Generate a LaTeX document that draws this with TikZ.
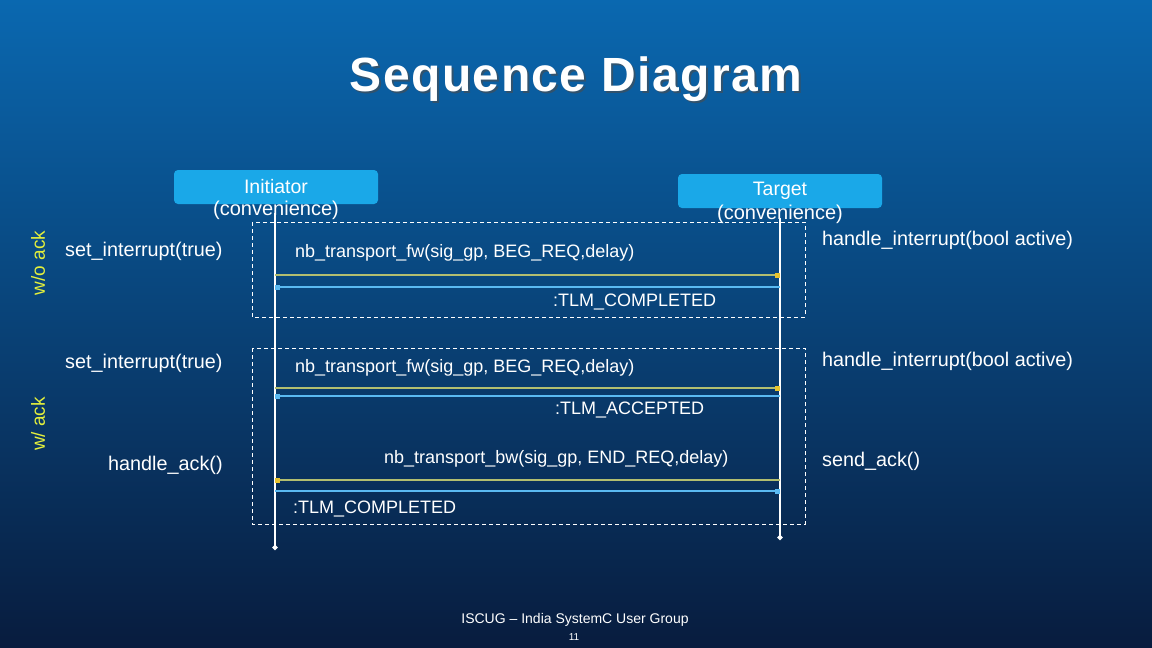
\documentclass[tikz,border=0pt]{standalone}
\usepackage{fontspec}
\setmainfont{Liberation Sans}
\newfontfamily\titlefont[LetterSpace=3]{Liberation Sans}
\usetikzlibrary{arrows.meta,positioning}
\definecolor{bgtop}{RGB}{10,104,176}
\definecolor{bgmid}{RGB}{4,98,168}
\definecolor{bgbot}{RGB}{8,28,62}
\definecolor{boxblue}{RGB}{26,168,232}
\definecolor{callline}{RGB}{178,190,112}
\definecolor{calltip}{RGB}{232,196,48}
\definecolor{retline}{RGB}{90,186,242}
\definecolor{sidelabel}{RGB}{228,240,60}
\tikzset{
  objbox/.style={fill=boxblue, rounded corners=4pt, minimum width=204pt, minimum height=34pt, text=white, font=\fontsize{19.5}{22}\selectfont, inner sep=0pt},
  objsub/.style={text=white, font=\fontsize{20}{22}\selectfont, inner sep=0pt},
  lifeline/.style={white, line width=1.3pt, -{Circle[length=5pt]}},
  fragment/.style={draw=white, dash pattern=on 4pt off 3pt, line width=0.8pt},
  method/.style={text=white, font=\fontsize{19.8}{22}\selectfont, anchor=west, inner sep=0pt},
  msglabel/.style={text=white, font=\fontsize{18}{21}\selectfont, anchor=west, inner sep=0pt},
  sidetag/.style={text=sidelabel, font=\fontsize{19}{22}\selectfont, rotate=90, inner sep=0pt},
  callmsg/.style={callline, line width=2pt, -{Square[length=5pt,width=5pt,color=calltip]}},
  retmsg/.style={retline, line width=2pt, -{Square[length=5pt,width=5pt,color=retline]}}
}
\begin{document}
\begin{tikzpicture}[x=1pt,y=-1pt]
  \shade[top color=bgtop, middle color=bgmid, bottom color=bgbot] (0,0) rectangle (1152,648);
  \useasboundingbox (0,0) rectangle (1152,648);
  \node[text=black!70, opacity=0.6, font=\fontsize{48}{50}\titlefont\bfseries] at (578,81) {Sequence Diagram};
  \node[text=white, font=\fontsize{48}{50}\titlefont\bfseries] (title) at (576,79) {Sequence Diagram};
  \node[objbox] (init) at (276,187) {Initiator};
  \node[objsub] (initsub) at (276,210) {(convenience)};
  \node[objbox] (targ) at (780,191) {Target};
  \node[objsub] (targsub) at (780,214) {(convenience)};
  \draw[fragment] (252,222) rectangle (805,317);
  \draw[fragment] (252,348) rectangle (805,524);
  \coordinate (ibot) at (275,550);
  \coordinate (tbot) at (780,540);
  \draw[lifeline] (initsub.center) ++(-1,3) -- (ibot);
  \draw[lifeline] (targsub.center) ++(0,4) -- (tbot);
  \node[sidetag] (noack) at (38,263) {w/o ack};
  \node[sidetag] (withack) at (38,424) {w/ ack};
  \node[method] (seti1) at (65,251) {set\_interrupt(true)};
  \node[method] (hint1) at (822,240) {handle\_interrupt(bool active)};
  \node[msglabel] (fw1) at (295,253) {nb\_transport\_fw(sig\_gp, BEG\_REQ,delay)};
  \coordinate (i1) at (275,275);
  \coordinate (t1) at (780,275);
  \coordinate (i2) at (275,287);
  \coordinate (t2) at (780,287);
  \draw[callmsg] (i1) -- (t1);
  \draw[retmsg] (t2) -- (i2);
  \node[msglabel] (ret1) at (553,302) {:TLM\_COMPLETED};
  \node[method] (seti2) at (65,363) {set\_interrupt(true)};
  \node[method] (hint2) at (822,361) {handle\_interrupt(bool active)};
  \node[msglabel] (fw2) at (295,368) {nb\_transport\_fw(sig\_gp, BEG\_REQ,delay)};
  \coordinate (i3) at (275,388);
  \coordinate (t3) at (780,388);
  \coordinate (i4) at (275,396);
  \coordinate (t4) at (780,396);
  \draw[callmsg] (i3) -- (t3);
  \draw[retmsg] (t4) -- (i4);
  \node[msglabel] (ret2) at (555,410) {:TLM\_ACCEPTED};
  \node[method] (hack) at (108,465) {handle\_ack()};
  \node[method] (sack) at (822,461) {send\_ack()};
  \node[msglabel] (bw) at (384,459) {nb\_transport\_bw(sig\_gp, END\_REQ,delay)};
  \coordinate (i5) at (275,480);
  \coordinate (t5) at (780,480);
  \coordinate (i6) at (275,491);
  \coordinate (t6) at (780,491);
  \draw[callmsg] (t5) -- (i5);
  \draw[retmsg] (i6) -- (t6);
  \node[msglabel] (ret3) at (293,509) {:TLM\_COMPLETED};
  \node[text=white, font=\fontsize{14}{16}\selectfont, inner sep=0pt] (footer) at (575,620) {ISCUG – India SystemC User Group};
  \node[text=white, font=\fontsize{10}{12}\selectfont, inner sep=0pt] (pageno) at (574,637) {11};
\end{tikzpicture}
\end{document}
